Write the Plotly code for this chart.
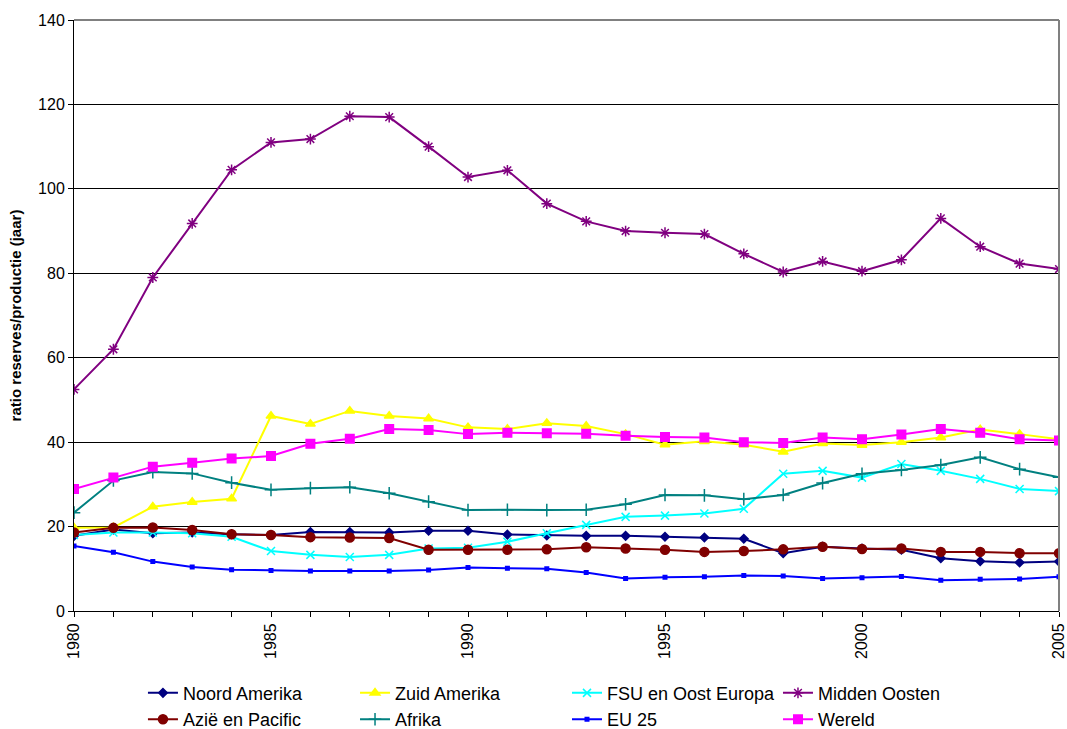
import plotly.graph_objects as go

years = list(range(1980, 2006))

noord_amerika = [17.8, 19.3, 18.4, 18.6, 18.2, 18.0, 18.7, 18.7, 18.6, 19.0, 19.0, 18.1, 17.9,
                 17.8, 17.8, 17.6, 17.4, 17.1, 13.7, 15.2, 14.8, 14.5, 12.5, 11.8, 11.5, 11.7]
zuid_amerika = [19.7, 19.8, 24.7, 25.8, 26.6, 46.2, 44.3, 47.4, 46.2, 45.6, 43.5, 43.1, 44.5,
                43.8, 41.9, 39.4, 40.2, 39.4, 37.7, 39.7, 39.3, 40.0, 41.1, 43.0, 41.9, 40.7]
fsu_oost_europa = [18.0, 18.6, 18.6, 18.4, 17.6, 14.2, 13.3, 12.8, 13.3, 14.8, 15.0, 16.4, 18.4,
                   20.4, 22.3, 22.6, 23.1, 24.2, 32.5, 33.2, 31.6, 34.8, 33.2, 31.3, 28.9, 28.4]
midden_oosten = [52.5, 62.0, 79.0, 91.8, 104.5, 111.0, 111.8, 117.2, 117.0, 110.0, 102.8, 104.4, 96.5,
                 92.3, 90.0, 89.6, 89.3, 84.6, 80.3, 82.8, 80.5, 83.2, 93.0, 86.3, 82.3, 81.0]
azie_pacific = [18.6, 19.7, 19.8, 19.2, 18.2, 18.0, 17.5, 17.4, 17.3, 14.5, 14.5, 14.5, 14.6,
                15.1, 14.8, 14.5, 14.0, 14.2, 14.6, 15.2, 14.7, 14.8, 14.0, 14.0, 13.7, 13.7]
afrika = [23.3, 30.9, 32.9, 32.6, 30.4, 28.7, 29.1, 29.3, 27.9, 25.9, 23.9, 24.0, 23.9,
          24.0, 25.3, 27.5, 27.4, 26.5, 27.5, 30.3, 32.5, 33.4, 34.6, 36.4, 33.6, 31.7]
eu_25 = [15.4, 13.9, 11.7, 10.4, 9.8, 9.6, 9.5, 9.5, 9.5, 9.7, 10.3, 10.1, 10.0,
         9.1, 7.7, 8.0, 8.1, 8.4, 8.3, 7.7, 7.9, 8.2, 7.3, 7.5, 7.6, 8.1]
wereld = [28.9, 31.6, 34.2, 35.1, 36.1, 36.7, 39.6, 40.8, 43.1, 42.9, 41.9, 42.2, 42.1,
          42.0, 41.5, 41.2, 41.1, 40.0, 39.8, 41.1, 40.7, 41.8, 43.1, 42.2, 40.7, 40.4]

y_ticks = [0, 20, 40, 60, 80, 100, 120, 140]
x_ticks = [1980, 1985, 1990, 1995, 2000, 2005]

FONT = "Liberation Sans, Arial, sans-serif"

# (name, values, colour, marker symbol, marker size, legend group)
series = [
    ("Noord Amerika", noord_amerika, "#000080", "diamond", 6.5, "legend"),
    ("Zuid Amerika", zuid_amerika, "#FFFF00", "triangle-up", 8.5, "legend2"),
    ("FSU en Oost Europa", fsu_oost_europa, "#00FFFF", "x-thin", 8, "legend3"),
    ("Midden Oosten", midden_oosten, "#800080", "asterisk", 9, "legend4"),
    ("Azië en Pacific", azie_pacific, "#800000", "circle", 9, "legend"),
    ("Afrika", afrika, "#008080", "cross-thin", 9, "legend2"),
    ("EU 25", eu_25, "#0000FF", "square", 3.5, "legend3"),
    ("Wereld", wereld, "#FF00FF", "square", 8.5, "legend4"),
]

fig = go.Figure()
for name, vals, color, symbol, size, leg in series:
    fig.add_trace(go.Scatter(
        x=years, y=vals, name=name, mode="lines+markers",
        line=dict(color=color, width=2),
        marker=dict(symbol=symbol, size=size, color=color,
                    line=dict(color=color, width=1.5)),
        legend=leg,
    ))

legend_common = dict(
    orientation="v", xanchor="left", yanchor="middle", y=-0.161,
    font=dict(family=FONT, size=18, color="#000000"),
    bgcolor="rgba(0,0,0,0)", borderwidth=0, itemwidth=30,
)

fig.update_layout(
    width=1067, height=729,
    margin=dict(l=74, r=8, t=20, b=118, autoexpand=False),
    paper_bgcolor="white", plot_bgcolor="white",
    font=dict(family=FONT, color="#000000"),
    showlegend=True,
    legend=dict(x=0.070, **legend_common),
    legend2=dict(x=0.2853, **legend_common),
    legend3=dict(x=0.5005, **legend_common),
    legend4=dict(x=0.7147, **legend_common),
    xaxis=dict(
        range=[1980, 2005], tickmode="array", tickvals=x_ticks,
        ticktext=[str(v) for v in x_ticks], tickangle=-90,
        ticks="outside", ticklen=5, tickcolor="#000000",
        minor=dict(ticks="outside", ticklen=5, tickcolor="#000000", dtick=1, showgrid=False),
        showline=True, linecolor="#000000", linewidth=1,
        showgrid=False, zeroline=False, automargin=False,
        ticklabeloverflow="allow",
        tickfont=dict(family=FONT, size=16, color="#000000"),
    ),
    yaxis=dict(
        range=[0, 140], tickmode="array", tickvals=y_ticks,
        ticks="outside", ticklen=5, tickcolor="#000000",
        showline=True, linecolor="#000000", linewidth=1,
        showgrid=True, gridcolor="#000000", gridwidth=1, zeroline=False, automargin=False,
        ticklabeloverflow="allow",
        tickfont=dict(family=FONT, size=16, color="#000000"),
        title=dict(text="<b>ratio reserves/productie (jaar)</b>",
                   font=dict(family=FONT, size=15, color="#000000"), standoff=12),
    ),
)

# grey frame on the top and right edges of the plotting area
fig.add_shape(type="line", xref="paper", yref="paper", x0=0, x1=1, y0=1, y1=1,
              line=dict(color="#808080", width=2), layer="above")
fig.add_shape(type="line", xref="paper", yref="paper", x0=1, x1=1, y0=0, y1=1,
              line=dict(color="#808080", width=2), layer="above")

fig.write_html("out.html")
